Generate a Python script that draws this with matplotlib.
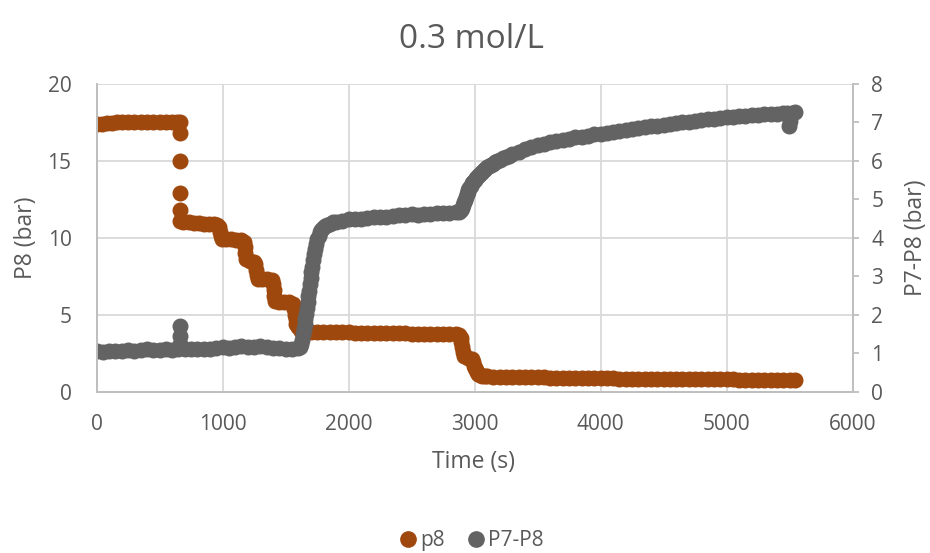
import matplotlib
matplotlib.use("Agg")
import matplotlib.pyplot as plt
from matplotlib.lines import Line2D

plt.rcParams['font.family'] = ['Open Sans', 'DejaVu Sans']

# --- data: outlet pressure P8 (left axis) ---
p8_time = [0, 40, 80, 120, 160, 200, 250, 300, 350, 400, 450, 500, 550, 600, 640, 665,
           660, 660, 660, 660, 665,
           690, 730, 770, 810, 850, 890, 930, 960,
           972, 980, 988, 995, 1030, 1070, 1110, 1150, 1168, 1175, 1182, 1190, 1220, 1250,
           1260, 1265, 1272, 1280, 1310, 1350, 1390, 1398, 1405, 1412, 1420, 1450, 1490,
           1530, 1560, 1568, 1575, 1580, 1585, 1600, 1620, 1650,
           1700, 1750, 1800, 1850, 1900, 1950, 2000, 2050, 2100, 2150, 2200, 2250, 2300,
           2350, 2400, 2450, 2500, 2550, 2600, 2650, 2700, 2750, 2800, 2850, 2880,
           2890, 2895, 2900, 2905, 2920, 2950, 2980, 2990, 2995, 3002, 3010, 3020, 3030,
           3045, 3060, 3080, 3100,
           3150, 3200, 3250, 3300, 3350, 3400, 3450, 3500, 3550, 3600, 3650, 3700, 3750,
           3800, 3850, 3900, 3950, 4000, 4050, 4100, 4150, 4200, 4250, 4300, 4350, 4400,
           4450, 4500, 4550, 4600, 4650, 4700, 4750, 4800, 4850, 4900, 4950, 5000, 5050,
           5100, 5150, 5200, 5250, 5300, 5350, 5400, 5450, 5500, 5540]
p8 = [17.4, 17.4, 17.45, 17.45, 17.5, 17.5, 17.5, 17.5, 17.5, 17.5, 17.5, 17.5, 17.5, 17.5, 17.5, 17.5,
      16.8, 15.0, 12.9, 11.8, 11.1,
      11.0, 11.0, 10.95, 10.95, 10.9, 10.9, 10.9, 10.85,
      10.7, 10.4, 10.1, 9.95, 9.9, 9.9, 9.85, 9.85, 9.7, 9.4, 9.0, 8.6, 8.5, 8.45,
      8.3, 7.9, 7.6, 7.35, 7.3, 7.3, 7.25, 7.0, 6.6, 6.2, 5.9, 5.85, 5.8,
      5.8, 5.7, 5.4, 5.0, 4.7, 4.4, 4.2, 3.95, 3.9,
      3.9, 3.9, 3.88, 3.87, 3.87, 3.85, 3.85, 3.84, 3.83, 3.83, 3.82, 3.82, 3.8,
      3.8, 3.8, 3.79, 3.78, 3.78, 3.77, 3.77, 3.76, 3.76, 3.75, 3.75, 3.7,
      3.5, 3.2, 2.9, 2.6, 2.3, 2.2, 2.1, 1.9, 1.7, 1.55, 1.4, 1.25, 1.15,
      1.1, 1.05, 1.02, 1.0,
      0.98, 0.97, 0.97, 0.96, 0.95, 0.95, 0.94, 0.93, 0.93, 0.92, 0.91, 0.9, 0.9,
      0.89, 0.88, 0.88, 0.87, 0.87, 0.86, 0.86, 0.85, 0.85, 0.85, 0.84, 0.84, 0.83,
      0.83, 0.83, 0.82, 0.82, 0.82, 0.81, 0.81, 0.81, 0.8, 0.8, 0.8, 0.8, 0.8,
      0.79, 0.79, 0.79, 0.79, 0.79, 0.78, 0.78, 0.78, 0.78, 0.78]

# --- data: differential pressure P7-P8 (right axis) ---
dp_time = [0, 50, 100, 150, 200, 250, 300, 350, 400, 450, 500, 550, 600, 650,
           660, 660, 665,
           700, 750, 800, 850, 900, 950, 1000, 1050, 1100, 1150, 1200, 1250, 1300,
           1350, 1400, 1450, 1500, 1550, 1600,
           1615, 1625, 1632, 1640, 1646, 1652, 1658, 1664, 1670, 1676, 1682, 1688,
           1694, 1700, 1706, 1712, 1719, 1727, 1735, 1743, 1752, 1762, 1773, 1785,
           1800, 1815, 1832, 1850, 1875, 1900, 1950, 2000, 2050, 2100, 2150, 2200, 2250,
           2300, 2350, 2400, 2450, 2500, 2550, 2600, 2650, 2700, 2750, 2800, 2850, 2880,
           2890, 2900, 2908, 2915, 2922, 2930, 2938, 2945, 2952, 2960, 2970, 2980,
           2990, 3000, 3012, 3025, 3037, 3050, 3062, 3075, 3087, 3100, 3115, 3130,
           3145, 3160, 3180, 3200, 3225, 3250, 3275, 3300, 3350, 3400, 3450, 3500,
           3550, 3600, 3650, 3700,
           3750, 3800, 3850, 3900, 3950, 4000, 4050, 4100, 4150, 4200, 4250, 4300,
           4350, 4400, 4450, 4500, 4550, 4600, 4650, 4700, 4750, 4800, 4850, 4900,
           4950, 5000, 5050, 5100, 5150, 5200, 5250, 5300, 5350, 5400, 5450, 5480,
           5495, 5505, 5520, 5540]
dp = [1.05, 1.04, 1.06, 1.05, 1.07, 1.08, 1.07, 1.08, 1.1, 1.08, 1.09, 1.1, 1.08, 1.1,
      1.7, 1.45, 1.25,
      1.1, 1.1, 1.12, 1.12, 1.11, 1.13, 1.15, 1.14, 1.16, 1.2, 1.15, 1.17, 1.2,
      1.15, 1.14, 1.13, 1.12, 1.12, 1.13,
      1.17, 1.25, 1.35, 1.5, 1.62, 1.75, 1.88, 2.02, 2.17, 2.32, 2.48, 2.63,
      2.79, 2.95, 3.1, 3.25, 3.42, 3.58, 3.72, 3.85, 3.96, 4.06, 4.14, 4.2,
      4.26, 4.3, 4.34, 4.37, 4.4, 4.42, 4.45, 4.48, 4.49, 4.5, 4.51, 4.53, 4.54,
      4.55, 4.57, 4.59, 4.6, 4.61, 4.6, 4.62, 4.63, 4.64, 4.65, 4.65, 4.66, 4.68,
      4.72, 4.78, 4.85, 4.92, 4.99, 5.06, 5.13, 5.2, 5.25, 5.3, 5.36, 5.42,
      5.46, 5.5, 5.55, 5.6, 5.64, 5.68, 5.72, 5.76, 5.8, 5.83, 5.87, 5.9,
      5.93, 5.96, 6.0, 6.03, 6.07, 6.1, 6.14, 6.17, 6.23, 6.3, 6.35, 6.41,
      6.45, 6.49, 6.52, 6.55,
      6.58, 6.61, 6.63, 6.66, 6.69, 6.71, 6.73, 6.75, 6.77, 6.8, 6.82, 6.85,
      6.87, 6.9, 6.92, 6.94, 6.96, 6.98, 7.0, 7.02, 7.04, 7.06, 7.09, 7.1,
      7.12, 7.14, 7.15, 7.17, 7.18, 7.19, 7.2, 7.21, 7.22, 7.23, 7.24, 7.24,
      6.9, 7.05, 7.25, 7.27]

x_ticks = [0, 1000, 2000, 3000, 4000, 5000, 6000]
left_ticks = [0, 5, 10, 15, 20]
right_ticks = [0, 1, 2, 3, 4, 5, 6, 7, 8]

orange = '#9E480E'
grey = '#636363'
text_c = '#595959'
grid_c = '#D9D9D9'
axis_c = '#BFBFBF'

fig = plt.figure(figsize=(9.3, 5.53), dpi=100)
ax = fig.add_axes([0.1038, 0.2917, 0.8129, 0.5564])
ax2 = ax.twinx()

ax.plot(p8_time, p8, 'o', ms=10.5, color=orange, mec=orange, ls='none')
ax2.plot(dp_time, dp, 'o', ms=10.5, color=grey, mec=grey, ls='none')

ax.set_xlim(0, 6000)
ax.set_ylim(0, 20)
ax2.set_ylim(0, 8)
ax.set_xticks(x_ticks)
ax.set_yticks(left_ticks)
ax2.set_yticks(right_ticks)

ax.grid(True, color=grid_c, lw=1.3)
ax.set_axisbelow(True)

for a in (ax, ax2):
    for side in ('left', 'bottom', 'right'):
        a.spines[side].set_color(axis_c)
        a.spines[side].set_linewidth(1.3)
    a.spines['top'].set_visible(False)

ax.tick_params(axis='x', length=0, pad=16, labelsize=15, labelcolor=text_c)
ax.tick_params(axis='y', length=0, pad=18, labelsize=15, labelcolor=text_c)
ax2.tick_params(axis='y', length=4.5, width=1.3, color=axis_c, pad=9,
                labelsize=15, labelcolor=text_c)

fig.text(0.5075, 0.928, '0.3 mol/L', ha='center', va='center', fontsize=24, color=text_c)
fig.text(0.028, 0.57, 'P8 (bar)', rotation=90, ha='center', va='center',
         fontsize=16.5, color=text_c)
fig.text(0.985, 0.57, 'P7-P8 (bar)', rotation=90, ha='center', va='center',
         fontsize=16.5, color=text_c)
fig.text(0.5095, 0.164, 'Time (s)', ha='center', va='center', fontsize=16.5, color=text_c)

handles = [Line2D([], [], marker='o', ls='none', ms=11, color=orange, label='p8'),
           Line2D([], [], marker='o', ls='none', ms=11, color=grey, label='P7-P8')]
fig.legend(handles=handles, loc='center', bbox_to_anchor=(0.506, 0.022), ncol=2,
           frameon=False, fontsize=15, labelcolor=text_c, handletextpad=0.1,
           columnspacing=1.0, handlelength=1.0)

fig.savefig('out.png', dpi=100)
